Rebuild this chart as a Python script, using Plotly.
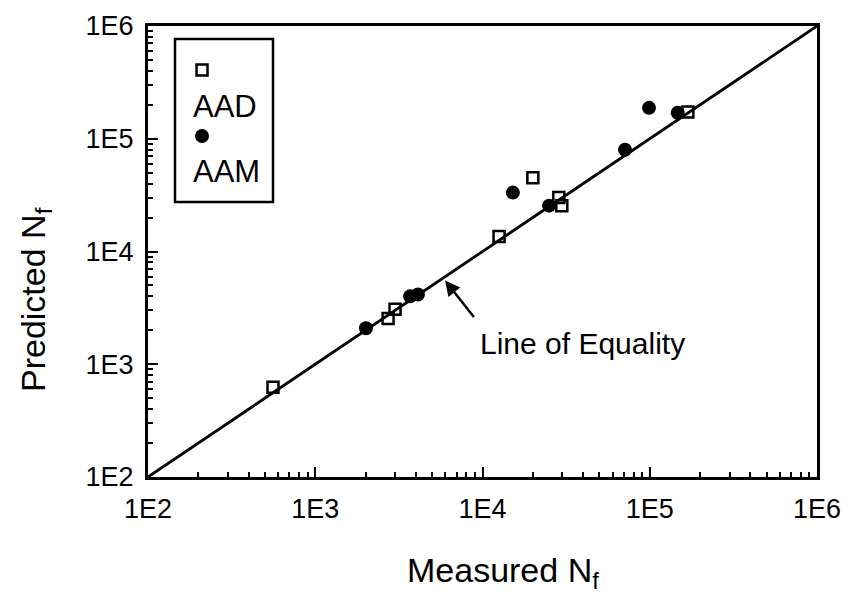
import plotly.graph_objects as go

# Data (measured vs predicted fatigue life)
aad_measured = [559, 2725, 3000, 12560, 20000, 28600, 29800, 169000]
aad_predicted = [625, 2550, 3070, 13600, 45200, 30100, 25500, 173000]

aam_measured = [2010, 3690, 4110, 15200, 25000, 71100, 99000, 147000]
aam_predicted = [2084, 4000, 4160, 33300, 25500, 80000, 188000, 170000]

equality = [100, 1000000]

tick_vals = [100, 1000, 10000, 100000, 1000000]
tick_text = ["1E2", "1E3", "1E4", "1E5", "1E6"]

FONT = "Liberation Sans, Arial, sans-serif"

# target plot box in page pixels (page body has an 8px offset)
PL, PR, PT, PB = 148, 817, 26, 477
OFF = 8
PW, PH = PR - PL, PB - PT


def px(x):
    return (x - PL) / PW


def py(y):
    return (PB - y) / PH


fig = go.Figure()

fig.add_trace(go.Scatter(
    x=equality, y=equality, mode="lines",
    line=dict(color="black", width=2.8), showlegend=False, hoverinfo="skip"))

fig.add_trace(go.Scatter(
    x=aad_measured, y=aad_predicted, mode="markers", name="AAD",
    marker=dict(symbol="square-open", size=11, color="black",
                line=dict(width=2.5, color="black"))))

fig.add_trace(go.Scatter(
    x=aam_measured, y=aam_predicted, mode="markers", name="AAM",
    marker=dict(symbol="circle", size=14, color="black")))

axis_common = dict(
    type="log", tickmode="array", tickvals=tick_vals, ticktext=tick_text,
    ticks="inside", ticklen=10, tickwidth=2, tickcolor="black",
    showline=True, linecolor="black", linewidth=3, mirror=True,
    showgrid=False, zeroline=False, automargin=False,
    tickfont=dict(family=FONT, size=27, color="black"),
    minor=dict(ticks="inside", ticklen=5, tickwidth=1.5, tickcolor="black",
               dtick="D1", showgrid=False),
)

fig.update_xaxes(range=[2, 6], ticklabelstandoff=6, **axis_common)
fig.update_yaxes(range=[2, 6], ticklabelstandoff=6, **axis_common)

fig.update_layout(
    width=856, height=599,
    paper_bgcolor="white", plot_bgcolor="white",
    margin=dict(l=PL - OFF, r=856 - (PR - OFF), t=PT - OFF, b=599 - (PB - OFF)),
    showlegend=False,
    font=dict(family=FONT, color="black"),
)

# Axis titles
fig.add_annotation(text="Measured N<sub>f</sub>", xref="paper", yref="paper",
                   x=px(503), y=py(572), xanchor="center", yanchor="middle",
                   showarrow=False, font=dict(size=34))
fig.add_annotation(text="Predicted N<sub>f</sub>", xref="paper", yref="paper",
                   x=px(35), y=py(300), xanchor="center", yanchor="middle",
                   textangle=-90, showarrow=False, font=dict(size=34))

# Legend box (drawn manually)
fig.add_shape(type="rect", xref="paper", yref="paper", layer="below",
              x0=px(175), x1=px(273), y0=py(202), y1=py(39),
              line=dict(color="black", width=2.5), fillcolor="white")
fig.add_trace(go.Scatter(
    x=[px(202)], y=[py(70)], xaxis="x2", yaxis="y2", mode="markers",
    marker=dict(symbol="square-open", size=11, color="black",
                line=dict(width=2.5, color="black")), showlegend=False, hoverinfo="skip"))
fig.add_trace(go.Scatter(
    x=[px(202)], y=[py(136)], xaxis="x2", yaxis="y2", mode="markers",
    marker=dict(symbol="circle", size=14, color="black"), showlegend=False, hoverinfo="skip"))
fig.update_layout(
    xaxis2=dict(overlaying="x", range=[0, 1], visible=False),
    yaxis2=dict(overlaying="y", range=[0, 1], visible=False),
)
fig.add_annotation(text="AAD", xref="paper", yref="paper",
                   x=px(191), y=py(106), xanchor="left", yanchor="middle",
                   showarrow=False, font=dict(size=31))
fig.add_annotation(text="AAM", xref="paper", yref="paper",
                   x=px(191), y=py(171), xanchor="left", yanchor="middle",
                   showarrow=False, font=dict(size=31))

# Line of equality label and arrow
fig.add_annotation(text="", x=3.776, y=3.743, xref="x", yref="y",
                   ax=30, ay=38, showarrow=True, arrowhead=2, arrowsize=1.2,
                   arrowwidth=2.5, arrowcolor="black")
fig.add_annotation(text="Line of Equality", xref="paper", yref="paper",
                   x=px(582), y=py(343),
                   xanchor="center", yanchor="middle", showarrow=False,
                   font=dict(size=30))

fig.write_html("out.html")
